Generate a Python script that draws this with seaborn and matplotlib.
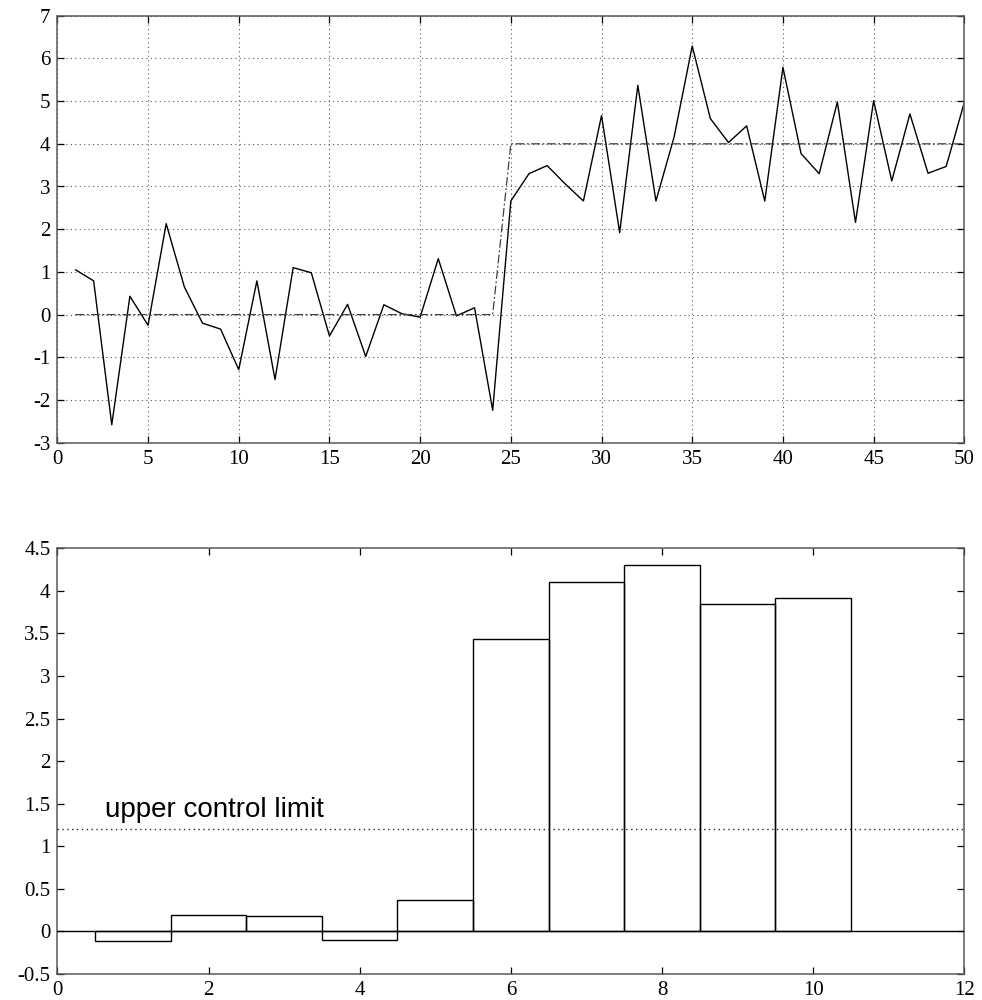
import numpy as np
import pandas as pd
import matplotlib
matplotlib.use("Agg")
import matplotlib.pyplot as plt
from matplotlib.ticker import FuncFormatter, MultipleLocator
import seaborn as sns

# Individual observations (top panel)
sample_no = list(range(1, 51))
observation = [
    1.05, 0.79, -2.58, 0.43, -0.25, 2.13, 0.65, -0.20, -0.34, -1.29,
    0.79, -1.52, 1.10, 0.98, -0.50, 0.24, -0.98, 0.23, 0.02, -0.06,
    1.31, -0.03, 0.16, -2.24, 2.66, 3.30, 3.49, 3.06, 2.66, 4.66,
    1.92, 5.37, 2.66, 4.16, 6.29, 4.59, 4.03, 4.42, 2.66, 5.79,
    3.77, 3.30, 4.98, 2.16, 5.01, 3.13, 4.70, 3.31, 3.47, 4.97,
]
process_mean = [
    0, 0, 0, 0, 0, 0, 0, 0, 0, 0, 0, 0, 0, 0, 0, 0, 0, 0, 0, 0, 0, 0, 0, 0,
    4, 4, 4, 4, 4, 4, 4, 4, 4, 4, 4, 4, 4, 4, 4, 4, 4, 4, 4, 4, 4, 4, 4, 4, 4, 4,
]

# Subgroup means (bottom panel)
batch_no = [1, 2, 3, 4, 5, 6, 7, 8, 9, 10]
batch_mean = [-0.11, 0.19, 0.18, -0.10, 0.37, 3.43, 4.11, 4.30, 3.85, 3.92]
upper_control_limit = 1.2
ucl_label = "upper control limit"

sns.set_style("ticks")
plt.rcParams.update({
    "font.family": ["Liberation Serif", "DejaVu Serif"],
    "text.color": "black",
    "axes.unicode_minus": False,
    "xtick.direction": "in",
    "ytick.direction": "in",
    "xtick.top": True,
    "ytick.right": True,
    "xtick.major.size": 5,
    "ytick.major.size": 5,
    "xtick.major.width": 0.9,
    "ytick.major.width": 0.9,
    "xtick.color": "black",
    "ytick.color": "black",
    "axes.edgecolor": "0.35",
    "axes.linewidth": 1.1,
})

obs_df = pd.DataFrame({"sample": sample_no, "value": observation, "mean": process_mean})
bar_df = pd.DataFrame({"batch": batch_no, "mean": batch_mean})

fig = plt.figure(figsize=(9.82, 10), dpi=100)
ax1 = fig.add_axes([0.0584, 0.5573, 0.9236, 0.4270])
ax2 = fig.add_axes([0.0584, 0.0260, 0.9236, 0.4257])

fmt = FuncFormatter(lambda v, pos: f"{v:g}")
dotted = (0, (1, 3))

# --- top panel: observations with shifting process mean ---
sns.lineplot(data=obs_df, x="sample", y="value", ax=ax1, color="black",
             linewidth=1.0, estimator=None)
sns.lineplot(data=obs_df, x="sample", y="mean", ax=ax1, color="0.25",
             linewidth=0.9, estimator=None)
ax1.lines[-1].set_dashes([7, 2, 1.5, 2])
ax1.set_xlim(0, 50)
ax1.set_ylim(-3, 7)
ax1.xaxis.set_major_locator(MultipleLocator(5))
ax1.yaxis.set_major_locator(MultipleLocator(1))
ax1.grid(True, linestyle=dotted, color="0.35", linewidth=0.8)

# --- bottom panel: subgroup means vs. control limit ---
sns.barplot(data=bar_df, x="batch", y="mean", ax=ax2, native_scale=True,
            width=1.0, fill=False, color="black", linewidth=1.0,
            errorbar=None, saturation=1)
for p in ax2.patches:
    p.set_facecolor("none")
    p.set_edgecolor("black")
    p.set_zorder(2)
ax2.axhline(0, color="black", linewidth=1.0, zorder=3)
ax2.axhline(upper_control_limit, color="0.15", linewidth=1.0,
            linestyle=(0, (1, 2.5)), zorder=4, snap=True)
ax2.text(0.63, upper_control_limit + 0.14, ucl_label,
         family=["Liberation Sans", "DejaVu Sans"], fontsize=20,
         color="black", va="baseline", ha="left")
ax2.set_xlim(0, 12)
ax2.set_ylim(-0.5, 4.5)
ax2.xaxis.set_major_locator(MultipleLocator(2))
ax2.yaxis.set_major_locator(MultipleLocator(0.5))

for ax in (ax1, ax2):
    ax.xaxis.set_major_formatter(fmt)
    ax.yaxis.set_major_formatter(fmt)
    ax.set_xlabel("")
    ax.set_ylabel("")
    ax.tick_params(labelsize=15, pad=5)
    for s in ax.spines.values():
        s.set_visible(True)

fig.savefig("out.png", dpi=100)
